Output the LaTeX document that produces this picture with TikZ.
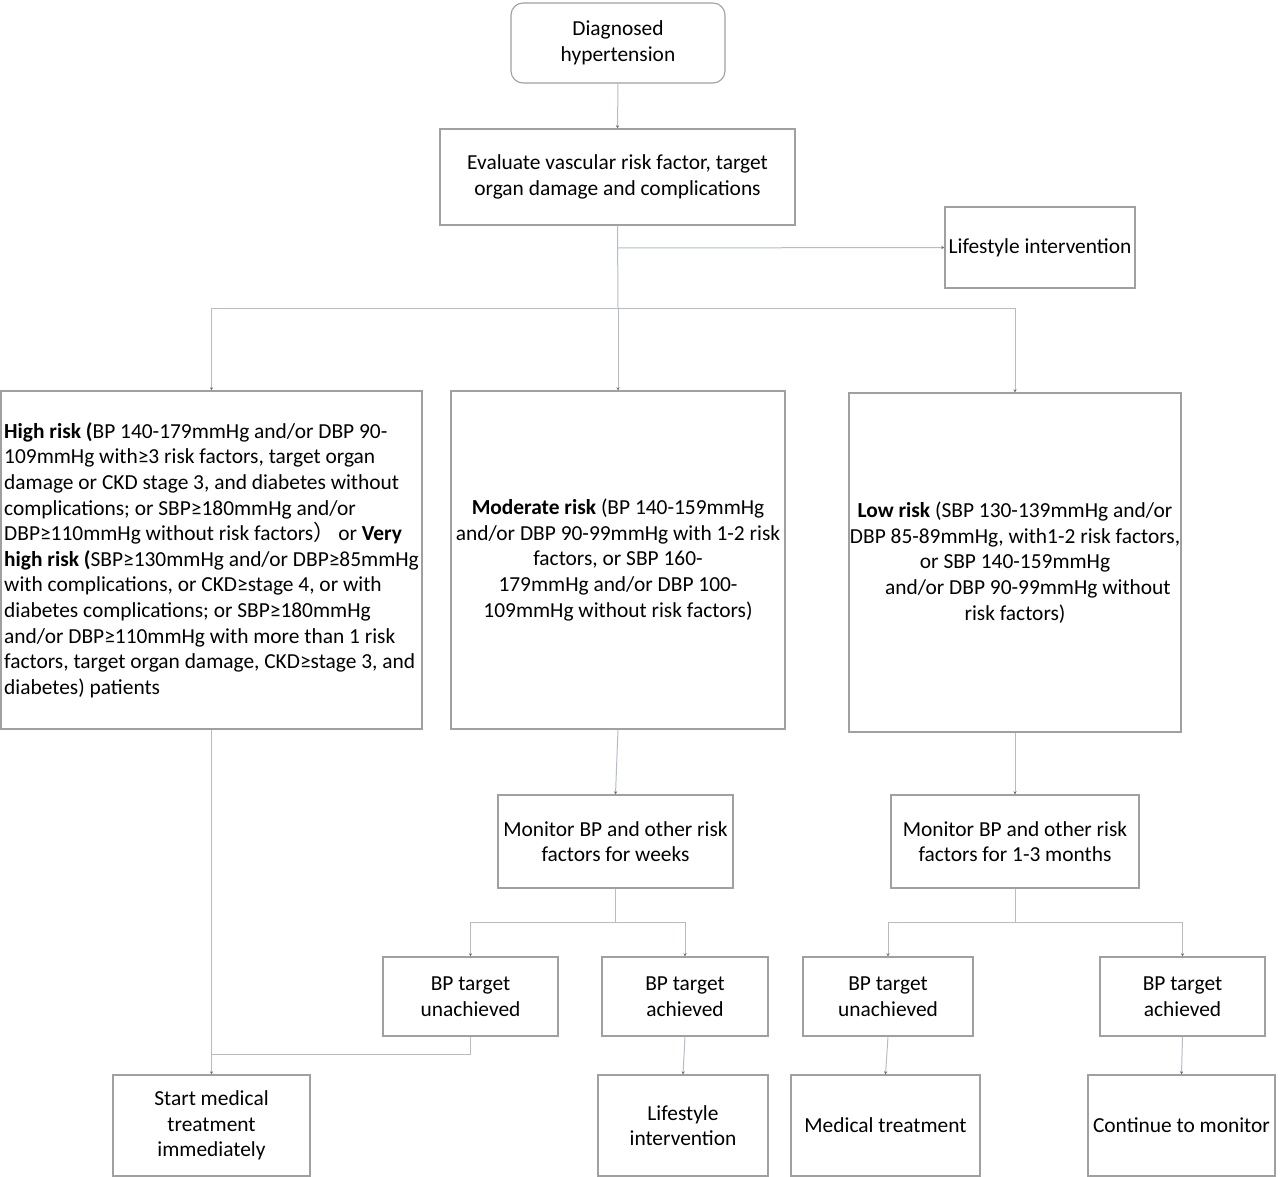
\documentclass[tikz,border=0pt]{standalone}
\usepackage{fontspec}
\setmainfont{Carlito}
\newfontfamily\cjk{Noto Sans CJK SC}
\usetikzlibrary{arrows.meta}
\definecolor{boxgray}{HTML}{A0A0A0}
\definecolor{linegray}{HTML}{B4BCCC}
\definecolor{tipgray}{HTML}{6A7080}
\begin{document}
\begin{tikzpicture}[x=0.5pt,y=-0.5pt,
  box/.style={draw=boxgray,line width=0.55pt,align=center,inner sep=1.5pt,
    font=\fontsize{10.7}{12.8}\selectfont,text=black},
  ln/.style={draw=linegray,line width=0.5pt},
  arr/.style={ln,-{Stealth[length=1.6pt,width=1.6pt,color=tipgray]}}]
\useasboundingbox[fill=white] (0,0) rectangle (1280,1177);

\node[box,rounded corners=6pt,minimum width=107pt,minimum height=40pt] (diag) at (618,43) {Diagnosed\\hypertension};
\node[box,minimum width=177.5pt,minimum height=48pt] (eval) at (617.5,177) {Evaluate vascular risk factor, target\\organ damage and complications};
\node[box,minimum width=95pt,minimum height=40.5pt] (life1) at (1040,247.5) {Lifestyle intervention};

\node[box,align=left,minimum width=210.5pt,minimum height=169pt] (high) at (211.5,560) {\textbf{High risk (}BP 140-179mmHg and/or DBP 90-\\
109mmHg with≥3 risk factors, target organ\\
damage or CKD stage 3, and diabetes without\\
complications; or SBP≥180mmHg and/or\\
DBP≥110mmHg without risk factors{\cjk ）}\,or \textbf{Very}\\
\textbf{high risk (}SBP≥130mmHg and/or DBP≥85mmHg\\
with complications, or CKD≥stage 4, or with\\
diabetes complications; or SBP≥180mmHg\\
and/or DBP≥110mmHg with more than 1 risk\\
factors, target organ damage, CKD≥stage 3, and\\
diabetes) patients};

\node[box,minimum width=167pt,minimum height=169pt] (mod) at (618,560) {\textbf{Moderate risk} (BP 140-159mmHg\\
and/or DBP 90-99mmHg with 1-2 risk\\
factors, or SBP 160-\\
179mmHg and/or DBP 100-\\
109mmHg without risk factors)};

\node[box,inner xsep=0pt,minimum width=166pt,minimum height=169.5pt] (low) at (1015,562.5) {\textbf{Low risk} (SBP 130-139mmHg and/or\\
DBP 85-89mmHg, with1-2 risk factors,\\
or SBP 140-159mmHg\\
\hspace*{1.2em}and/or DBP 90-99mmHg without\\
risk factors)};

\node[box,minimum width=117.5pt,minimum height=46.5pt] (monw) at (615.5,841.5) {Monitor BP and other risk\\factors for weeks};
\node[box,minimum width=124pt,minimum height=46.5pt] (monm) at (1015,841.5) {Monitor BP and other risk\\factors for 1-3 months};

\node[box,minimum width=87.5pt,minimum height=39.5pt] (un1) at (470.5,996.5) {BP target\\unachieved};
\node[box,minimum width=83pt,minimum height=39.5pt] (ach1) at (685,996.5) {BP target\\achieved};
\node[box,minimum width=85pt,minimum height=39.5pt] (un2) at (888,996.5) {BP target\\unachieved};
\node[box,minimum width=82.5pt,minimum height=39.5pt] (ach2) at (1182.5,996.5) {BP target\\achieved};

\node[box,minimum width=98.5pt,minimum height=50.5pt] (start) at (211.5,1125.5) {Start medical\\treatment\\immediately};
\node[box,minimum width=85pt,minimum height=50.5pt] (life2) at (683,1125.5) {Lifestyle\\intervention};
\node[box,minimum width=94.5pt,minimum height=50.5pt] (med) at (885.5,1125.5) {Medical treatment};
\node[box,minimum width=93.5pt,minimum height=50.5pt] (cont) at (1181.5,1125.5) {Continue to monitor};

% connectors
\coordinate (j0) at (618,248);
\coordinate (j1) at (618,308);
\coordinate (j2) at (615.5,922);
\coordinate (j3) at (1015,922);
\coordinate (j4) at (211.5,1054);

\draw[arr] (diag.south) -- (eval.north);
\draw[ln] (eval.south) -- (j1);
\draw[arr] (j0) -- (life1.west);
\draw[ln] (high.north |- j1) -- (low.north |- j1);
\draw[arr] (high.north |- j1) -- (high.north);
\draw[arr] (j1) -- (mod.north);
\draw[arr] (low.north |- j1) -- (low.north);

\draw[arr] (high.south) -- (start.north);
\draw[arr] (mod.south) -- (monw.north);
\draw[arr] (low.south) -- (monm.north);

\draw[ln] (monw.south) -- (j2);
\draw[ln] (un1.north |- j2) -- (ach1.north |- j2);
\draw[arr] (un1.north |- j2) -- (un1.north);
\draw[arr] (ach1.north |- j2) -- (ach1.north);

\draw[ln] (monm.south) -- (j3);
\draw[ln] (un2.north |- j3) -- (ach2.north |- j3);
\draw[arr] (un2.north |- j3) -- (un2.north);
\draw[arr] (ach2.north |- j3) -- (ach2.north);

\draw[ln] (un1.south) |- (j4);
\draw[arr] (ach1.south) -- (life2.north);
\draw[arr] (un2.south) -- (med.north);
\draw[arr] (ach2.south) -- (cont.north);
\end{tikzpicture}
\end{document}
